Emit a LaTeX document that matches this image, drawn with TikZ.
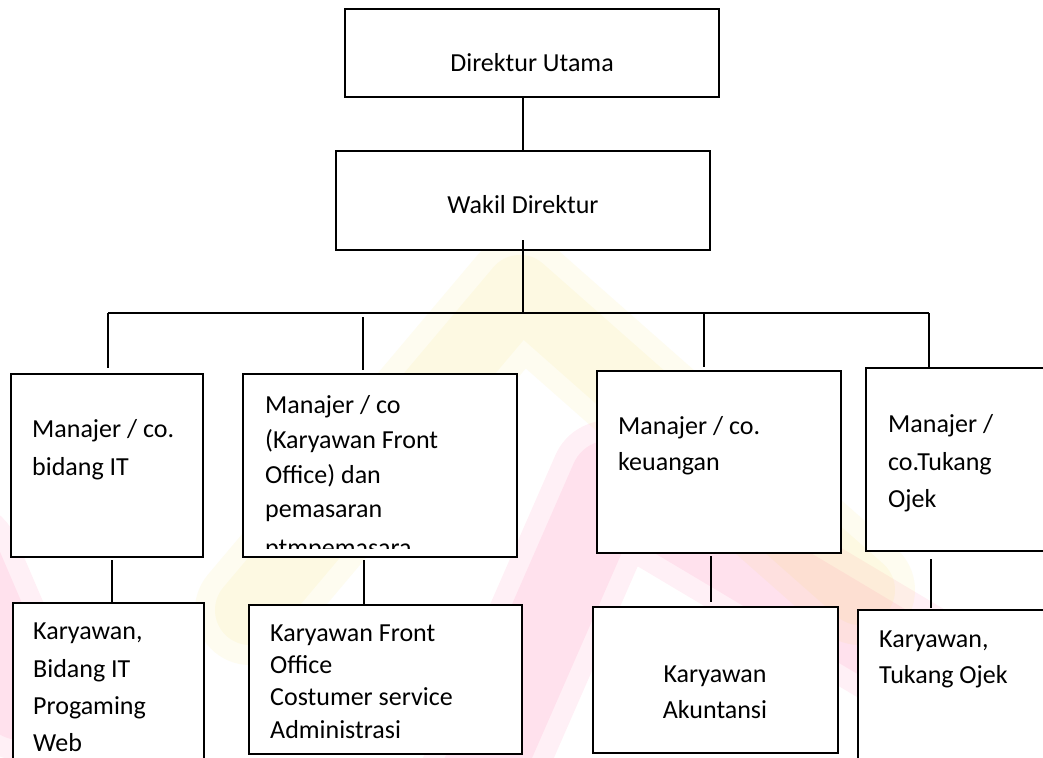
\documentclass[tikz,border=0pt]{standalone}
\usepackage{fontspec}
\setmainfont{Carlito}
\begin{document}
\begin{tikzpicture}[x=1bp,y=-1bp,
  box/.style={draw=black, fill=white, line width=1.6bp, inner sep=0pt, outer sep=0pt},
  conn/.style={draw=black, line width=1.6bp},
  tl/.style={anchor=base west, inner sep=0pt, font=\fontsize{26bp}{31bp}\selectfont},
  tc/.style={anchor=base, inner sep=0pt, font=\fontsize{26bp}{31bp}\selectfont},
  wmy/.style={draw=yellow!70!orange, line join=round, line cap=round},
  wmr/.style={draw=red!60!magenta, line join=round, line cap=round}]
\clip (0,0) rectangle (1043,758);
\fill[white] (0,0) rectangle (1043,758);
% faint watermark
\begin{scope}[opacity=0.06]
\path[wmr, line width=120bp] (470,800) -- (610,480) -- (1080,760);
\path[wmr, line width=80bp] (470,800) -- (610,480) -- (1080,760);
\path[wmr, line width=120bp] (-40,560) -- (20,700);
\path[wmr, line width=80bp] (-40,560) -- (20,700);
\path[wmy, line width=110bp] (250,610) -- (520,290) -- (860,590);
\path[wmy, line width=70bp] (250,610) -- (520,290) -- (860,590);
\end{scope}
% boxes
\node[box, minimum width=374bp, minimum height=88bp] (top) at (532,53) {};
\node[box, minimum width=374bp, minimum height=99bp] (wakil) at (523,200.5) {};
\node[box, minimum width=192bp, minimum height=183bp] (m1) at (107,465.5) {};
\node[box, minimum width=274bp, minimum height=183bp] (m2) at (380,465.5) {};
\node[box, minimum width=244bp, minimum height=182bp] (m3) at (719,462) {};
\node[box, minimum width=194bp, minimum height=183bp] (m4) at (963,459.5) {};
\node[box, minimum width=191bp, minimum height=177bp] (e1) at (108.5,691.5) {};
\node[box, minimum width=273bp, minimum height=149bp] (e2) at (385.5,679.5) {};
\node[box, minimum width=245bp, minimum height=146bp] (e3) at (715.5,680) {};
\node[box, minimum width=202bp, minimum height=170bp] (e4) at (959,695) {};
% texts
\node[tc] (ttop) at (532,72) {Direktur Utama};
\node[tc] (twakil) at (523,213) {Wakil Direktur};
\node[tl] (m1a) at (32,437) {Manajer / co.};
\node[tl] (m1b) at (32,475) {bidang IT};
\node[tl] (m2a) at (265,413) {Manajer / co};
\node[tl] (m2b) at (265,448) {(Karyawan Front};
\node[tl] (m2c) at (265,483) {Office) dan};
\node[tl] (m2d) at (265,517) {pemasaran};
\begin{scope}
\clip (250,530) rectangle (510,548);
\node[tl] (m2e) at (265,556) {ptmpemasara};
\end{scope}
\node[tl] (m3a) at (618,434) {Manajer / co.};
\node[tl] (m3b) at (618,470) {keuangan};
\node[tl] (m4a) at (888,432) {Manajer /};
\node[tl] (m4b) at (888,470) {co.Tukang};
\node[tl] (m4c) at (888,507) {Ojek};
\node[tl] (e1a) at (33,639) {Karyawan,};
\node[tl] (e1b) at (33,677) {Bidang IT};
\node[tl] (e1c) at (33,714) {Progaming};
\node[tl] (e1d) at (33,751) {Web};
\node[tl] (e2a) at (270,641) {Karyawan Front};
\node[tl] (e2b) at (270,673) {Office};
\node[tl] (e2c) at (270,705) {Costumer service};
\node[tl] (e2d) at (270,738) {Administrasi};
\node[tc] (e3a) at (715,682) {Karyawan};
\node[tc] (e3b) at (715,718) {Akuntansi};
\node[tl] (e4a) at (879,647) {Karyawan,};
\node[tl] (e4b) at (879,683) {Tukang Ojek};
% connectors
\coordinate (j0) at (523,313);
\coordinate (b1) at (108,313);
\coordinate (b2) at (363,313);
\coordinate (b3) at (704,313);
\coordinate (b4) at (929,313);
\draw[conn] (wakil.north |- top.south) -- (wakil.north);
\draw[conn] ([yshift=10bp]wakil.south) -- (j0);
\draw[conn] (b1) -- (b4);
\draw[conn, shorten >=6bp] (b1) -- (b1 |- m1.north);
\draw[conn, shorten <=4bp, shorten >=4bp] (b2) -- (b2 |- m2.north);
\draw[conn, shorten >=4bp] (b3) -- (b3 |- m3.north);
\draw[conn] (b4) -- (b4 |- m4.north);
\draw[conn, shorten <=3bp] ([xshift=5bp]m1.south) -- ([xshift=5bp]m1.south |- e1.north);
\draw[conn, shorten <=3bp] ([xshift=-16bp]m2.south) -- ([xshift=-16bp]m2.south |- e2.north);
\draw[conn, shorten <=3bp, shorten >=5bp] ([xshift=-8bp]m3.south) -- ([xshift=-8bp]m3.south |- e3.north);
\draw[conn, shorten <=8bp, shorten >=2bp] ([xshift=-32bp]m4.south) -- ([xshift=-32bp]m4.south |- e4.north);
\end{tikzpicture}
\end{document}
